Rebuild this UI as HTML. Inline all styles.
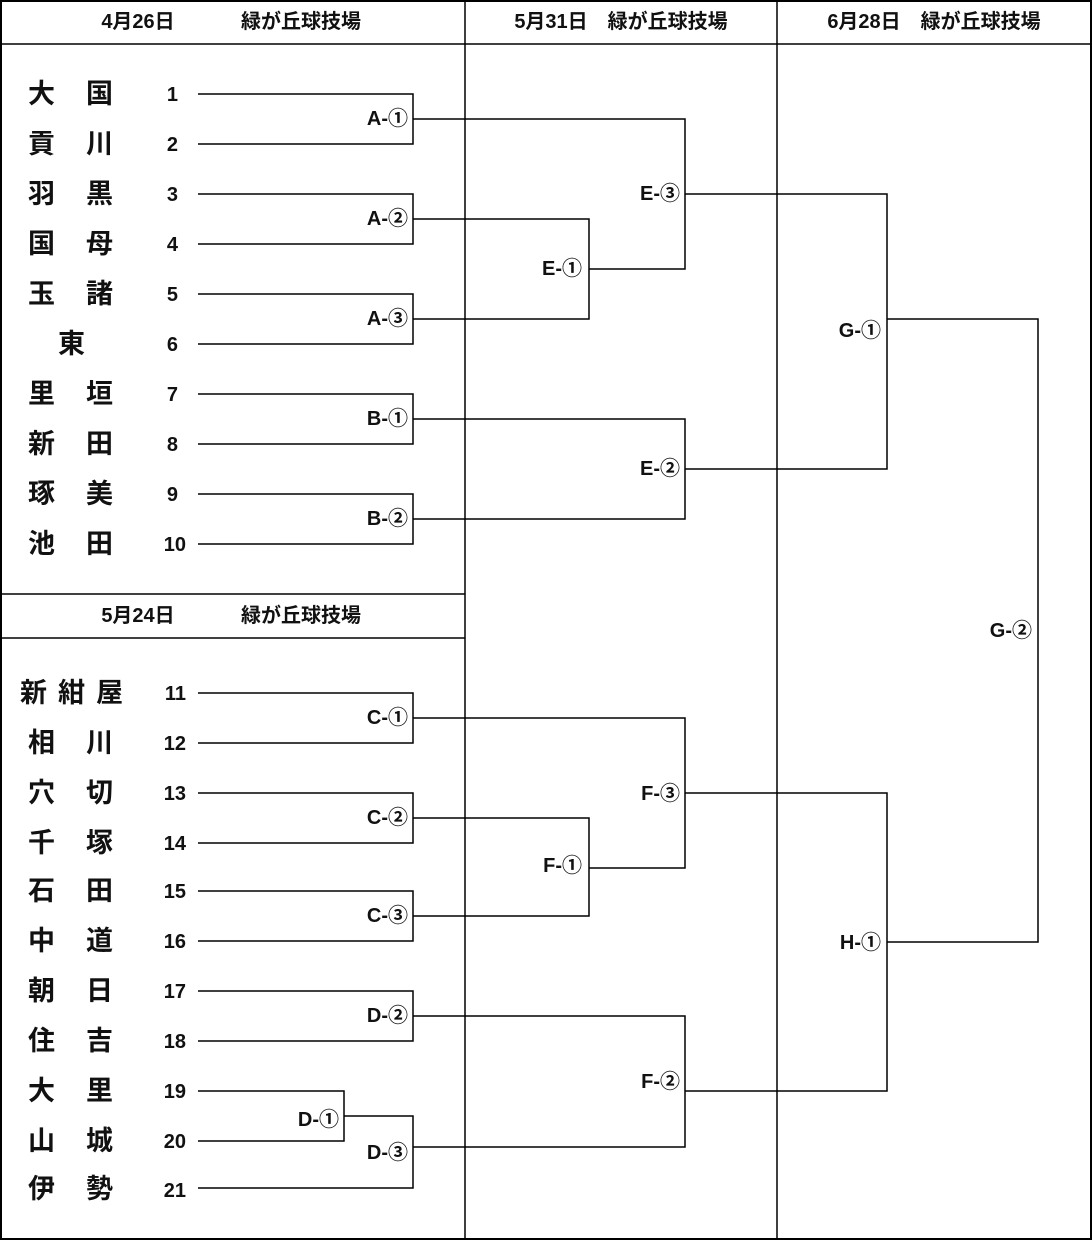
<!DOCTYPE html>
<html><head><meta charset="utf-8"><style>
html,body{margin:0;padding:0;background:#fff}
svg{display:block}
text{font-family:"Liberation Sans","Noto Sans CJK JP",sans-serif;font-weight:bold;fill:#111}
.n{font-size:27px}
.num{font-size:20px;text-anchor:end}
.l{font-size:20px;text-anchor:end}
.h{font-size:20px;text-anchor:middle}
</style></head><body>
<svg width="1092" height="1240" viewBox="0 0 1092 1240" xmlns="http://www.w3.org/2000/svg">
<g fill="none" stroke="#000">
<rect x="1" y="1" width="1090" height="1238" stroke-width="2"/>
<line x1="0" y1="44" x2="1092" y2="44" stroke-width="1.5"/>
<line x1="465" y1="0" x2="465" y2="1240" stroke-width="1.5"/>
<line x1="777" y1="0" x2="777" y2="1240" stroke-width="1.5"/>
<line x1="0" y1="594" x2="465" y2="594" stroke-width="1.5"/>
<line x1="0" y1="638" x2="465" y2="638" stroke-width="1.5"/>
</g>
<g fill="none" stroke="#000" stroke-width="1.5">
<path d="M198 94H413V144H198"/><path d="M198 194H413V244H198"/><path d="M198 294H413V344H198"/>
<path d="M198 394H413V444H198"/><path d="M198 494H413V544H198"/>
<path d="M413 119H685V269H589"/><path d="M413 219H589V319H413"/>
<path d="M413 419H685V519H413"/>
<path d="M685 194H887V469H685"/>
<path d="M887 319H1038V942H887"/>
<path d="M198 693H413V743H198"/><path d="M198 793H413V843H198"/><path d="M198 891H413V941H198"/>
<path d="M198 991H413V1041H198"/>
<path d="M198 1091H344V1141H198"/>
<path d="M344 1116H413V1188H198"/>
<path d="M413 718H685V868H589"/><path d="M413 818H589V916H413"/>
<path d="M413 1016H685V1147H413"/>
<path d="M685 793H887V1091H685"/>
</g>
<text class="h" x="138" y="28">4月26日</text><text class="h" x="301" y="28">緑が丘球技場</text>
<text class="h" x="621" y="28">5月31日　緑が丘球技場</text>
<text class="h" x="934" y="28">6月28日　緑が丘球技場</text>
<text class="h" x="138" y="622">5月24日</text><text class="h" x="301" y="622">緑が丘球技場</text>
<g class="n">
<text x="28" y="103">大</text><text x="86" y="103">国</text>
<text x="28" y="153">貢</text><text x="86" y="153">川</text>
<text x="28" y="203">羽</text><text x="86" y="203">黒</text>
<text x="28" y="253">国</text><text x="86" y="253">母</text>
<text x="28" y="303">玉</text><text x="86" y="303">諸</text>
<text x="58" y="353">東</text>
<text x="28" y="403">里</text><text x="86" y="403">垣</text>
<text x="28" y="453">新</text><text x="86" y="453">田</text>
<text x="28" y="503">琢</text><text x="86" y="503">美</text>
<text x="28" y="553">池</text><text x="86" y="553">田</text>
<text x="20" y="702" letter-spacing="11">新紺屋</text>
<text x="28" y="752">相</text><text x="86" y="752">川</text>
<text x="28" y="802">穴</text><text x="86" y="802">切</text>
<text x="28" y="852">千</text><text x="86" y="852">塚</text>
<text x="28" y="900">石</text><text x="86" y="900">田</text>
<text x="28" y="950">中</text><text x="86" y="950">道</text>
<text x="28" y="1000">朝</text><text x="86" y="1000">日</text>
<text x="28" y="1050">住</text><text x="86" y="1050">吉</text>
<text x="28" y="1100">大</text><text x="86" y="1100">里</text>
<text x="28" y="1150">山</text><text x="86" y="1150">城</text>
<text x="28" y="1198">伊</text><text x="86" y="1198">勢</text>
</g>
<g class="num">
<text x="178" y="101">1</text><text x="178" y="151">2</text><text x="178" y="201">3</text><text x="178" y="251">4</text>
<text x="178" y="301">5</text><text x="178" y="351">6</text><text x="178" y="401">7</text><text x="178" y="451">8</text>
<text x="178" y="501">9</text><text x="186" y="551">10</text>
<text x="186" y="700">11</text><text x="186" y="750">12</text><text x="186" y="800">13</text><text x="186" y="850">14</text>
<text x="186" y="898">15</text><text x="186" y="948">16</text><text x="186" y="998">17</text><text x="186" y="1048">18</text>
<text x="186" y="1098">19</text><text x="186" y="1148">20</text><text x="186" y="1197">21</text>
</g>
<g class="l">
<text x="408" y="125">A-①</text><text x="408" y="225">A-②</text><text x="408" y="325">A-③</text>
<text x="408" y="425">B-①</text><text x="408" y="525">B-②</text>
<text x="582" y="275">E-①</text><text x="680" y="475">E-②</text><text x="680" y="200">E-③</text>
<text x="881" y="337">G-①</text><text x="1032" y="637">G-②</text>
<text x="408" y="724">C-①</text><text x="408" y="824">C-②</text><text x="408" y="922">C-③</text>
<text x="339" y="1126">D-①</text><text x="408" y="1022">D-②</text><text x="408" y="1159">D-③</text>
<text x="582" y="872">F-①</text><text x="680" y="1088">F-②</text><text x="680" y="800">F-③</text>
<text x="881" y="949">H-①</text>
</g>
</svg>
</body></html>
